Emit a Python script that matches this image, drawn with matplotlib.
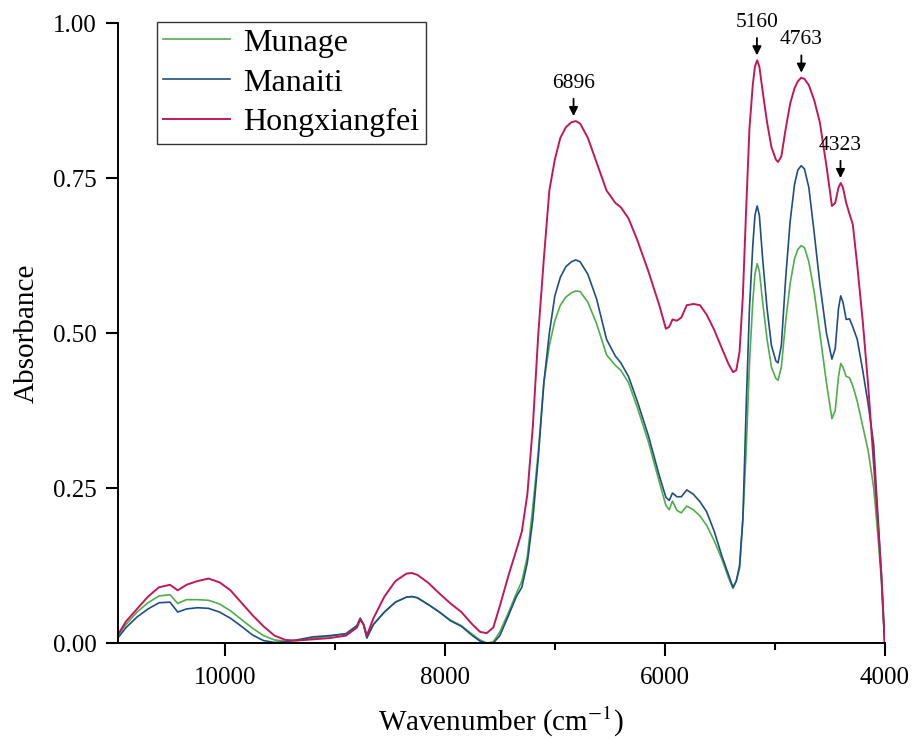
import matplotlib
matplotlib.use("Agg")
import matplotlib.pyplot as plt
from matplotlib.ticker import MultipleLocator, FormatStrFormatter

plt.rcParams["font.family"] = ["Liberation Serif", "DejaVu Serif"]
plt.rcParams["mathtext.fontset"] = "stix"

# wavenumber (cm-1)
wavenumber = [10975, 10900, 10800, 10700, 10600, 10500, 10430, 10350, 10250, 10150,
              10050, 9950, 9850, 9750, 9650, 9550, 9450, 9350, 9200, 9050,
              8900, 8800, 8770, 8740, 8710, 8650, 8550, 8450, 8350, 8300,
              8250, 8150, 8050, 7950, 7850, 7750, 7680, 7620, 7560, 7500,
              7420, 7350, 7300, 7250, 7200, 7150, 7100, 7050, 7000, 6950,
              6900, 6850, 6810, 6770, 6700, 6620, 6530, 6450, 6400, 6330,
              6250, 6150, 6050, 5990, 5960, 5930, 5890, 5850, 5800, 5740,
              5680, 5620, 5550, 5480, 5420, 5380, 5350, 5320, 5290, 5260,
              5230, 5200, 5180, 5160, 5140, 5110, 5070, 5030, 4990, 4970,
              4940, 4900, 4860, 4820, 4790, 4760, 4730, 4690, 4640, 4590,
              4530, 4480, 4450, 4420, 4400, 4380, 4350, 4320, 4290, 4250,
              4200, 4150, 4100, 4060, 4030, 4000]

hongxiangfei = [0.013, 0.035, 0.055, 0.075, 0.090, 0.094, 0.085, 0.094, 0.100, 0.104,
                0.098, 0.085, 0.065, 0.045, 0.027, 0.012, 0.005, 0.004, 0.006, 0.008,
                0.012, 0.025, 0.038, 0.030, 0.012, 0.040, 0.075, 0.100, 0.112, 0.113,
                0.110, 0.097, 0.080, 0.064, 0.050, 0.030, 0.018, 0.016, 0.025, 0.060,
                0.110, 0.150, 0.180, 0.240, 0.350, 0.500, 0.620, 0.730, 0.780, 0.815,
                0.832, 0.840, 0.842, 0.838, 0.815, 0.775, 0.730, 0.710, 0.703, 0.685,
                0.650, 0.600, 0.545, 0.507, 0.510, 0.522, 0.520, 0.525, 0.545, 0.547,
                0.545, 0.530, 0.505, 0.475, 0.450, 0.437, 0.440, 0.470, 0.560, 0.700,
                0.830, 0.900, 0.930, 0.940, 0.930, 0.890, 0.840, 0.800, 0.780, 0.776,
                0.785, 0.830, 0.870, 0.895, 0.906, 0.912, 0.910, 0.900, 0.875, 0.840,
                0.770, 0.705, 0.710, 0.735, 0.742, 0.735, 0.710, 0.692, 0.675, 0.610,
                0.520, 0.415, 0.290, 0.190, 0.110, 0.000]

manaiti = [0.008, 0.025, 0.042, 0.055, 0.065, 0.066, 0.050, 0.055, 0.057, 0.056,
           0.050, 0.040, 0.027, 0.013, 0.004, 0.001, 0.002, 0.005, 0.010, 0.012,
           0.015, 0.028, 0.040, 0.030, 0.008, 0.030, 0.050, 0.066, 0.074, 0.075,
           0.073, 0.062, 0.050, 0.036, 0.027, 0.012, 0.003, 0.000, 0.000, 0.012,
           0.045, 0.075, 0.090, 0.130, 0.200, 0.300, 0.420, 0.500, 0.560, 0.590,
           0.607, 0.615, 0.618, 0.615, 0.595, 0.555, 0.490, 0.463, 0.452, 0.430,
           0.390, 0.335, 0.270, 0.235, 0.230, 0.242, 0.236, 0.236, 0.247, 0.240,
           0.228, 0.212, 0.180, 0.140, 0.110, 0.090, 0.100, 0.125, 0.200, 0.380,
           0.540, 0.640, 0.690, 0.705, 0.690, 0.620, 0.540, 0.480, 0.455, 0.452,
           0.480, 0.590, 0.680, 0.740, 0.763, 0.770, 0.765, 0.735, 0.660, 0.580,
           0.500, 0.458, 0.475, 0.540, 0.560, 0.550, 0.522, 0.523, 0.510, 0.490,
           0.440, 0.385, 0.320, 0.200, 0.110, 0.000]

munage = [0.012, 0.030, 0.050, 0.065, 0.076, 0.078, 0.064, 0.070, 0.070, 0.069,
          0.063, 0.052, 0.038, 0.024, 0.012, 0.005, 0.003, 0.004, 0.008, 0.011,
          0.015, 0.028, 0.040, 0.030, 0.010, 0.030, 0.050, 0.066, 0.074, 0.075,
          0.073, 0.062, 0.050, 0.037, 0.028, 0.014, 0.005, 0.000, 0.002, 0.018,
          0.050, 0.080, 0.100, 0.140, 0.220, 0.310, 0.420, 0.480, 0.520, 0.545,
          0.558, 0.565, 0.568, 0.567, 0.550, 0.515, 0.465, 0.448, 0.440, 0.420,
          0.380, 0.325, 0.260, 0.222, 0.215, 0.229, 0.214, 0.210, 0.221, 0.215,
          0.205, 0.190, 0.165, 0.135, 0.105, 0.088, 0.100, 0.120, 0.200, 0.310,
          0.450, 0.550, 0.595, 0.612, 0.600, 0.550, 0.490, 0.445, 0.427, 0.424,
          0.445, 0.520, 0.580, 0.620, 0.635, 0.641, 0.638, 0.615, 0.565, 0.500,
          0.420, 0.362, 0.375, 0.430, 0.451, 0.445, 0.430, 0.428, 0.415, 0.390,
          0.350, 0.310, 0.250, 0.170, 0.100, 0.000]

peak_labels = ["6896", "5160", "4763", "4323"]
peak_x = [6830, 5162, 4758, 4402]
peak_y = [0.842, 0.940, 0.912, 0.742]

fig = plt.figure(figsize=(9.13, 7.46), dpi=100)
ax = fig.add_axes([0.129, 0.138, 0.840, 0.831])

ax.plot(wavenumber, munage, color="#4fae4a", lw=1.2, label="Munage")
ax.plot(wavenumber, manaiti, color="#1f4e82", lw=1.2, label="Manaiti")
ax.plot(wavenumber, hongxiangfei, color="#c2185b", lw=1.4, label="Hongxiangfei")

for lab, xp, yp in zip(peak_labels, peak_x, peak_y):
    ax.annotate("", xy=(xp, yp + 0.008), xytext=(xp, yp + 0.036),
                arrowprops=dict(arrowstyle="-|>", color="k", lw=1.3,
                                mutation_scale=13, shrinkA=0, shrinkB=0))
    ax.text(xp, yp + 0.046, lab, ha="center", va="bottom", fontsize=15.5)

ax.set_xlim(10975, 4000)
ax.set_ylim(0, 1.0)
ax.xaxis.set_major_locator(MultipleLocator(2000))
ax.xaxis.set_minor_locator(MultipleLocator(1000))
ax.yaxis.set_major_locator(MultipleLocator(0.25))
ax.yaxis.set_major_formatter(FormatStrFormatter("%.2f"))

for s in ["top", "right"]:
    ax.spines[s].set_visible(False)
for s in ["left", "bottom"]:
    ax.spines[s].set_linewidth(1.4)
ax.tick_params(which="major", direction="out", length=9, width=1.5, labelsize=18)
ax.tick_params(axis="x", which="major", pad=8)
ax.tick_params(axis="y", which="major", pad=6)
ax.tick_params(which="minor", direction="out", length=5, width=1.5)

ax.set_xlabel("Wavenumber (cm$^{-1}$)", fontsize=21, labelpad=12)
ax.set_ylabel("Absorbance", fontsize=21, labelpad=10)

leg = ax.legend(loc="upper left", bbox_to_anchor=(0.051, 1.002), fontsize=23,
                frameon=True, fancybox=False, handlelength=2.1, borderpad=0.2,
                labelspacing=0.33, handletextpad=0.4, borderaxespad=0)
leg.get_frame().set_edgecolor("k")
leg.get_frame().set_linewidth(1.0)

fig.savefig("out.png", dpi=100)
